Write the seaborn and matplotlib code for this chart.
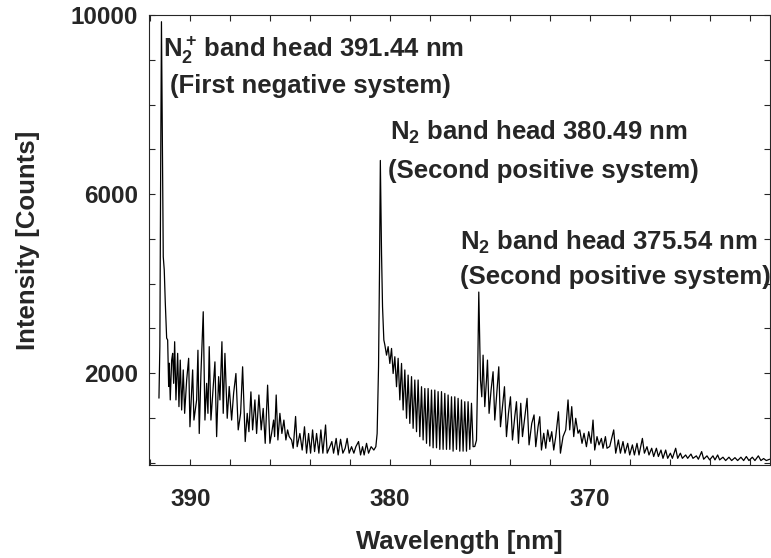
import numpy as np
import pandas as pd
import matplotlib
matplotlib.use("Agg")
import matplotlib.pyplot as plt
from matplotlib.ticker import MultipleLocator
import seaborn as sns

# 1. DATA (wavelength in nm / counts)
# first negative band N2+ (391.44 nm) and its tail
wl_fns = [391.565, 391.52, 391.48, 391.44, 391.39, 391.35, 391.30, 391.25, 391.18, 391.13,
          391.08, 391.05, 391.00, 390.93, 390.88, 390.83, 390.78, 390.715, 390.63, 390.565,
          390.50, 390.43, 390.35, 390.28, 390.18, 390.08, 390.015, 389.88, 389.815, 389.68,
          389.615, 389.55, 389.465, 389.35, 389.265, 389.18, 389.115, 389.05, 388.965, 388.85,
          388.765, 388.68, 388.58, 388.515, 388.415, 388.35, 388.265, 388.15, 388.05, 387.93,
          387.83, 387.715, 387.60, 387.48, 387.38, 387.25, 387.15, 387.065, 386.965, 386.88,
          386.765, 386.68, 386.565, 386.45, 386.35, 386.25, 386.13, 386.015, 385.93, 385.83,
          385.78, 385.70, 385.615, 385.515, 385.415, 385.315, 385.215, 385.13, 385.05, 384.93,
          384.85, 384.73, 384.65, 384.515, 384.40, 384.285, 384.18, 384.08, 383.98, 383.88,
          383.78, 383.68, 383.565, 383.465, 383.365, 383.23, 383.15, 383.015, 382.915, 382.83,
          382.70, 382.60, 382.48, 382.365, 382.25, 382.15, 382.05, 381.93, 381.815, 381.715,
          381.58, 381.48, 381.38, 381.30, 381.18, 381.08, 380.95, 380.815, 380.715, 380.65,
          380.58]
cnt_fns = [1440, 2600, 6500, 9850, 6800, 4600, 4300, 3590, 2780, 2740,
           1700, 2220, 1400, 2290, 2440, 1770, 2700, 1400, 2440, 1250,
           2290, 1175, 2070, 1100, 1840, 2330, 800, 2070, 950, 1400,
           2510, 650, 1990, 3370, 950, 1770, 1100, 2590, 950, 1700,
           2250, 580, 1920, 1400, 2700, 1100, 2440, 990, 1700, 950,
           1550, 1990, 730, 1100, 2140, 470, 1100, 690, 1580, 730,
           1400, 650, 1510, 730, 1210, 430, 1730, 430, 650, 950,
           580, 1510, 505, 1100, 650, 950, 505, 730, 580, 505,
           320, 1030, 355, 650, 280, 800, 210, 650, 210, 730,
           245, 650, 210, 730, 210, 840, 210, 355, 470, 210,
           540, 170, 520, 210, 320, 540, 210, 355, 210, 355,
           470, 170, 355, 170, 430, 210, 355, 280, 355, 650,
           2140]

# second positive band head 380.49 nm
wl_sp1 = [380.53, 380.49, 380.43, 380.38, 380.315, 380.265, 380.18, 380.10, 380.015, 379.93,
          379.85, 379.765, 379.68, 379.60, 379.515, 379.43, 379.35, 379.265, 379.18, 379.10,
          379.015, 378.93, 378.85, 378.765, 378.68, 378.60, 378.515, 378.43, 378.35, 378.265,
          378.18, 378.10, 378.015, 377.93, 377.85, 377.765, 377.68, 377.60, 377.515, 377.43,
          377.35, 377.265, 377.18, 377.10, 377.015, 376.93, 376.85, 376.765, 376.68, 376.60,
          376.515, 376.43, 376.35, 376.265, 376.18, 376.10, 376.015, 375.93, 375.85, 375.765,
          375.68, 375.62]
cnt_sp1 = [4370, 6750, 4670, 3480, 2740, 2630, 2400, 2590, 2215, 2550,
           1990, 2365, 1695, 2330, 1400, 2215, 1175, 2070, 990, 1955,
           875, 1920, 765, 1845, 690, 1845, 580, 1695, 505, 1655,
           430, 1655, 370, 1620, 330, 1620, 330, 1585, 295, 1585,
           295, 1545, 295, 1510, 295, 1470, 255, 1470, 295, 1435,
           255, 1400, 255, 1360, 255, 1360, 295, 1325, 355, 360,
           500, 2000]

# second positive band head 375.54 nm and the long tail
wl_sp2 = [375.565, 375.48, 375.415, 375.35, 375.265, 375.18, 375.13, 375.05, 374.95, 374.85,
          374.765, 374.65, 374.565, 374.48, 374.38, 374.28, 374.18, 374.08, 373.98, 373.88,
          373.765, 373.68, 373.58, 373.465, 373.38, 373.28, 373.15, 373.05, 372.915, 372.80,
          372.715, 372.60, 372.515, 372.43, 372.315, 372.215, 372.115, 372.015, 371.915, 371.815,
          371.715, 371.58, 371.48, 371.35, 371.215, 371.10, 371.015, 370.915, 370.815, 370.715,
          370.60, 370.515, 370.40, 370.30, 370.18, 370.065, 369.95, 369.85, 369.765, 369.65,
          369.55, 369.43, 369.35, 369.23, 369.15, 369.015, 368.815, 368.715, 368.58, 368.48,
          368.35, 368.25, 368.115, 368.015, 367.88, 367.78, 367.65, 367.55, 367.38, 367.28,
          367.15, 367.05, 366.915, 366.815, 366.68, 366.58, 366.45, 366.35, 366.215, 366.115,
          365.98, 365.88, 365.715, 365.615, 365.48, 365.38, 365.215, 365.115, 364.95, 364.85,
          364.68, 364.58, 364.415, 364.315, 364.15, 364.015, 363.85, 363.75, 363.615, 363.515,
          363.35, 363.215, 363.05, 362.915, 362.75, 362.615, 362.45, 362.315, 362.18, 362.05,
          361.88, 361.75, 361.58, 361.45, 361.315, 361.18, 361.015]
cnt_sp2 = [3810, 1845, 1470, 2400, 1250, 1845, 2290, 1100, 1620, 2030,
           950, 1620, 2140, 800, 1250, 1695, 580, 1100, 1470, 505,
           1025, 1360, 430, 1325, 580, 950, 1435, 395, 875, 1065,
           355, 800, 1025, 280, 655, 320, 730, 470, 690, 280,
           580, 1135, 210, 580, 730, 1400, 730, 1250, 580, 990,
           655, 730, 430, 655, 355, 690, 430, 950, 280, 580,
           395, 540, 320, 580, 320, 360, 730, 210, 505, 210,
           470, 210, 430, 170, 395, 170, 430, 170, 540, 210,
           355, 170, 320, 135, 320, 135, 280, 95, 280, 95,
           210, 95, 320, 95, 210, 95, 170, 95, 190, 95,
           150, 75, 245, 75, 150, 60, 150, 60, 170, 60,
           120, 45, 120, 45, 110, 45, 120, 45, 135, 45,
           120, 45, 150, 45, 90, 45, 75]

df = pd.DataFrame({
    "Wavelength": wl_fns + wl_sp1 + wl_sp2,
    "Counts": cnt_fns + cnt_sp1 + cnt_sp2,
})

# 2. STYLE
sns.set_style("ticks")
plt.rcParams['font.family'] = ['Liberation Sans', 'DejaVu Sans']
plt.rcParams['font.weight'] = 'bold'
plt.rcParams['mathtext.fontset'] = 'custom'
plt.rcParams['mathtext.rm'] = 'Liberation Sans:bold'
plt.rcParams['mathtext.bf'] = 'Liberation Sans:bold'
plt.rcParams['mathtext.it'] = 'Liberation Sans:bold'

fig = plt.figure(figsize=(7.71, 5.58), dpi=100)
ax = fig.add_axes([0.1936, 0.1658, 0.805, 0.8073])

# 3. PLOT
sns.lineplot(data=df, x="Wavelength", y="Counts", color="black", lw=0.9,
             estimator=None, sort=False, ax=ax)

ax.set_xlim(392.05, 361.0)
ax.set_ylim(-65, 10000)
ax.set_xticks([390, 380, 370])
ax.xaxis.set_minor_locator(MultipleLocator(2))
ax.set_yticks([2000, 6000, 10000])
ax.yaxis.set_minor_locator(MultipleLocator(1000))
ax.tick_params(which='both', direction='in', top=True, right=True, length=4, width=0.8)
ax.tick_params(axis='x', pad=16, labelsize=17.5)
ax.tick_params(axis='y', pad=8, labelsize=17.5)
for s in ax.spines.values():
    s.set_linewidth(0.8)

ax.set_xlabel("Wavelength [nm]", fontsize=18.5, fontweight='bold', labelpad=14)
ax.set_ylabel("Intensity [Counts]", fontsize=18.5, fontweight='bold', labelpad=22)

# band head labels
fs = 18.5
ax.text(391.365, 9060, r"N$_2^+\,$band head 391.44 nm", fontsize=fs, fontweight='bold')
ax.text(391.015, 8257, "(First negative system)", fontsize=fs, fontweight='bold')
ax.text(380.015, 7205, r"N$_2$ band head 380.49 nm", fontsize=fs, fontweight='bold')
ax.text(380.115, 6355, "(Second positive system)", fontsize=fs, fontweight='bold')
ax.text(376.515, 4745, r"N$_2$ band head 375.54 nm", fontsize=fs, fontweight='bold')
ax.text(376.515, 3984, "(Second positive system)", fontsize=fs, fontweight='bold')

plt.savefig("out.png", dpi=100)
